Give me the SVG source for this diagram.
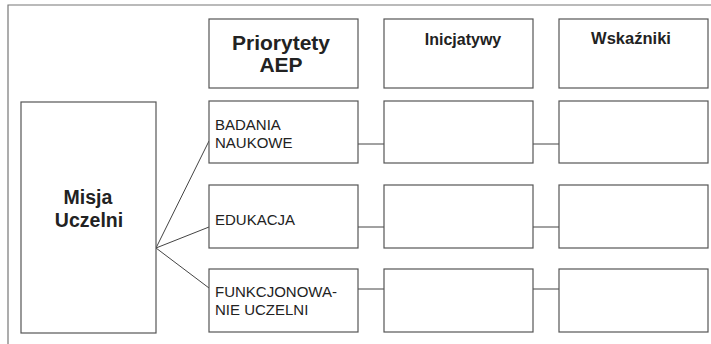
<svg xmlns="http://www.w3.org/2000/svg" width="711" height="344" viewBox="0 0 711 344">
<style>
.box{fill:#fff;stroke:#555;stroke-width:1.2}
.frame{fill:none;stroke:#777;stroke-width:1.2}
.con{fill:none;stroke:#444;stroke-width:1}
.hd{font-family:"Liberation Sans",Arial,sans-serif;font-weight:bold;fill:#222}
.lb{font-family:"Liberation Sans",Arial,sans-serif;font-size:15px;fill:#222}
</style>
<rect width="711" height="344" fill="#fff"/>
<path class="frame" d="M8,344 V5 H711"/>
<g id="connectors">
<line class="con" x1="156" y1="248" x2="209" y2="141"/>
<line class="con" x1="156" y1="248" x2="209" y2="227"/>
<line class="con" x1="156" y1="248" x2="209" y2="288"/>
<line class="con" x1="358" y1="144" x2="384" y2="144"/>
<line class="con" x1="533" y1="144" x2="559" y2="144"/>
<line class="con" x1="358" y1="227" x2="384" y2="227"/>
<line class="con" x1="533" y1="227" x2="559" y2="227"/>
<line class="con" x1="358" y1="289" x2="384" y2="289"/>
<line class="con" x1="533" y1="289" x2="559" y2="289"/>
</g>
<g id="priorytety">
<rect class="box" x="209" y="19" width="149" height="69"/>
<text class="hd" font-size="21" x="281" y="50" text-anchor="middle">Priorytety</text>
<text class="hd" font-size="21" x="281" y="72" text-anchor="middle">AEP</text>
</g>
<g id="inicjatywy">
<rect class="box" x="384" y="19" width="149" height="69"/>
<text class="hd" font-size="16" x="463" y="45" text-anchor="middle">Inicjatywy</text>
</g>
<g id="wskazniki">
<rect class="box" x="559" y="19" width="149" height="69"/>
<text class="hd" font-size="16.5" x="631" y="44" text-anchor="middle">Wskaźniki</text>
</g>
<g id="misja">
<rect class="box" x="21" y="102" width="135" height="231"/>
<text class="hd" font-size="19.5" x="88" y="204" text-anchor="middle">Misja</text>
<text class="hd" font-size="19.5" x="89" y="227" text-anchor="middle">Uczelni</text>
</g>
<g id="badania">
<rect class="box" x="209" y="101" width="149" height="62"/>
<text class="lb" x="215" y="130">BADANIA</text>
<text class="lb" x="215" y="148">NAUKOWE</text>
</g>
<g id="edukacja">
<rect class="box" x="209" y="185" width="149" height="63"/>
<text class="lb" x="215" y="225">EDUKACJA</text>
</g>
<g id="funkcjonowanie">
<rect class="box" x="209" y="269" width="149" height="63"/>
<text class="lb" x="215" y="297">FUNKCJONOWA-</text>
<text class="lb" x="215" y="315">NIE UCZELNI</text>
</g>
<g id="ini1"><rect class="box" x="384" y="101" width="149" height="62"/></g>
<g id="wsk1"><rect class="box" x="559" y="101" width="149" height="62"/></g>
<g id="ini2"><rect class="box" x="384" y="185" width="149" height="63"/></g>
<g id="wsk2"><rect class="box" x="559" y="185" width="149" height="63"/></g>
<g id="ini3"><rect class="box" x="384" y="269" width="149" height="63"/></g>
<g id="wsk3"><rect class="box" x="559" y="269" width="149" height="63"/></g>
</svg>
